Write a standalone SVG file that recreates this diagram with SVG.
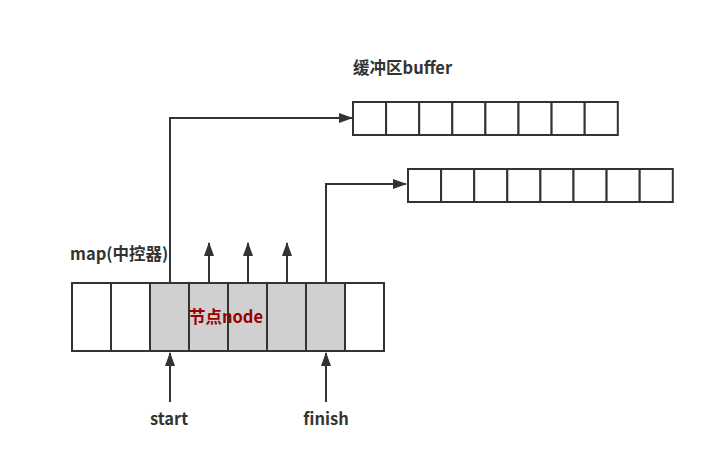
<svg xmlns="http://www.w3.org/2000/svg" width="704" height="471" viewBox="0 0 704 471">
<style>
.cell{fill:#fff;stroke:#333;stroke-width:2}
.g{fill:#d0d0d0}
.ln{fill:none;stroke:#333;stroke-width:2}
.t{font-family:"Noto Sans CJK SC","Noto Sans",sans-serif;font-weight:bold;font-size:16.5px;fill:#333}
.red{fill:#990000}
</style>
<defs>
<marker id="ah" viewBox="0 0 14 10" refX="13" refY="5" markerWidth="14" markerHeight="10" markerUnits="userSpaceOnUse" orient="auto">
<path d="M0,0 L14,5 L0,10 Z" fill="#333"/>
</marker>
</defs>
<rect width="704" height="471" fill="#fff"/>
<g id="connectors">
<path class="ln" d="M170,283 V118 H352" marker-end="url(#ah)"/>
<path class="ln" d="M326,283 V184 H406" marker-end="url(#ah)"/>
<path class="ln" d="M209,283 V243" marker-end="url(#ah)"/>
<path class="ln" d="M248,283 V243" marker-end="url(#ah)"/>
<path class="ln" d="M287,283 V243" marker-end="url(#ah)"/>
<path class="ln" d="M170,402 V353" marker-end="url(#ah)"/>
<path class="ln" d="M326,402 V353" marker-end="url(#ah)"/>
</g>
<g id="map">
<rect class="cell" x="72" y="283" width="39" height="68"/>
<rect class="cell" x="111" y="283" width="39" height="68"/>
<rect class="cell g" x="150" y="283" width="39" height="68"/>
<rect class="cell g" x="189" y="283" width="39" height="68"/>
<rect class="cell g" x="228" y="283" width="39" height="68"/>
<rect class="cell g" x="267" y="283" width="39" height="68"/>
<rect class="cell g" x="306" y="283" width="39" height="68"/>
<rect class="cell" x="345" y="283" width="39" height="68"/>
<text class="t" x="70" y="260">map(中控器)</text>
<text class="t red" x="226" y="323" text-anchor="middle">节点node</text>
</g>
<g id="buffer1">
<rect class="cell" x="353" y="102" width="33.1" height="33"/>
<rect class="cell" x="386.1" y="102" width="33.1" height="33"/>
<rect class="cell" x="419.2" y="102" width="33.1" height="33"/>
<rect class="cell" x="452.3" y="102" width="33.1" height="33"/>
<rect class="cell" x="485.4" y="102" width="33.1" height="33"/>
<rect class="cell" x="518.5" y="102" width="33.1" height="33"/>
<rect class="cell" x="551.6" y="102" width="33.1" height="33"/>
<rect class="cell" x="584.7" y="102" width="33.1" height="33"/>
<text class="t" x="353" y="74">缓冲区buffer</text>
</g>
<g id="buffer2">
<rect class="cell" x="408" y="169" width="33.1" height="33"/>
<rect class="cell" x="441.1" y="169" width="33.1" height="33"/>
<rect class="cell" x="474.2" y="169" width="33.1" height="33"/>
<rect class="cell" x="507.3" y="169" width="33.1" height="33"/>
<rect class="cell" x="540.4" y="169" width="33.1" height="33"/>
<rect class="cell" x="573.5" y="169" width="33.1" height="33"/>
<rect class="cell" x="606.6" y="169" width="33.1" height="33"/>
<rect class="cell" x="639.7" y="169" width="33.1" height="33"/>
</g>
<g id="start"><text class="t" x="169" y="425" text-anchor="middle">start</text></g>
<g id="finish"><text class="t" x="326" y="425" text-anchor="middle">finish</text></g>
</svg>
